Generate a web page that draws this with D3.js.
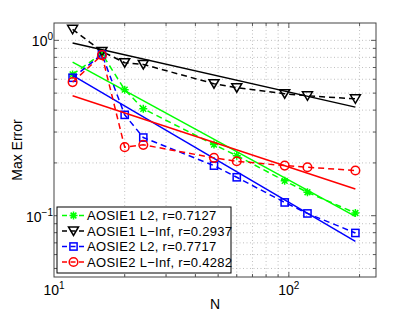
<!DOCTYPE html>
<html><head><meta charset="utf-8">
<script src="https://cdn.jsdelivr.net/npm/d3@7"></script>
<style>body{margin:0;background:#fff}svg{display:block;font-family:"Liberation Sans",Arial,Helvetica,sans-serif}</style>
</head><body><svg id="c" width="415" height="312"></svg>
<script>
// ---- data ----
const N = [12, 16, 20, 24, 48, 60, 96, 120, 192];
const aosie1L2   = [0.639, 0.84, 0.523, 0.407, 0.2545, 0.220, 0.158, 0.136, 0.1036];
const aosie1Linf = [1.156, 0.865, 0.746, 0.729, 0.566, 0.537, 0.496, 0.483, 0.464];
const aosie2L2   = [0.612, 0.83, 0.376, 0.279, 0.193, 0.1656, 0.119, 0.103, 0.0797];
const aosie2Linf = [0.578, 0.824, 0.246, 0.2535, 0.2137, 0.2044, 0.193, 0.189, 0.181];
const fitN = [12, 192];
const fit1L2   = [0.752, 0.0991];
const fit1Linf = [0.965, 0.416];
const fit2L2   = [0.631, 0.0713];
const fit2Linf = [0.483, 0.142];
const seriesNames = ["AOSIE1 L2, r=0.7127", "AOSIE1 L\u2212Inf, r=0.2937", "AOSIE2 L2, r=0.7717", "AOSIE2 L\u2212Inf, r=0.4282"];
const xTickExp = [1, 2];
const yTickExp = [-1, 0];

// ---- layout ----
const L = 54, R = 376, T = 23, B = 277;
const svg = d3.select("#c");
const x = d3.scaleLog().domain([10, 235]).range([L, R]);
const y = d3.scaleLog().domain([0.0447, 1.256]).range([B, T]);

const series = [
  {vals: aosie1L2, fit: fit1L2, color: "#00ff00", marker: "star"},
  {vals: aosie1Linf, fit: fit1Linf, color: "#000000", marker: "tri"},
  {vals: aosie2L2, fit: fit2L2, color: "#0000ff", marker: "square"},
  {vals: aosie2Linf, fit: fit2Linf, color: "#ff0000", marker: "circle"}
];

// grid
const xMinor = [];
for (let d = 10; d <= 100; d *= 10) for (let k = 1; k <= 9; k++) { const v = k * d; if (v > 10 && v <= 235) xMinor.push(v); }
const yMinor = [];
for (let d = 0.01; d <= 1; d *= 10) for (let k = 1; k <= 9; k++) { const v = k * d; if (v >= 0.0447 && v <= 1.256) yMinor.push(v); }
const g = svg.append("g");
g.selectAll(".gx").data(xMinor).join("line")
  .attr("x1", d => x(d)).attr("x2", d => x(d)).attr("y1", T).attr("y2", B)
  .attr("stroke", "#b0b0b0").attr("stroke-width", 0.8).attr("stroke-dasharray", "1,2.5");
g.selectAll(".gy").data(yMinor).join("line")
  .attr("y1", d => y(d)).attr("y2", d => y(d)).attr("x1", L).attr("x2", R)
  .attr("stroke", "#b0b0b0").attr("stroke-width", 0.8).attr("stroke-dasharray", "1,2.5");

// ticks (inside, all sides)
const isMajor = v => Math.abs(Math.log10(v) - Math.round(Math.log10(v))) < 1e-9;
const tk = svg.append("g").attr("stroke", "#333").attr("stroke-width", 0.8);
xMinor.forEach(v => {
  const len = isMajor(v) ? 5 : 3;
  tk.append("line").attr("x1", x(v)).attr("x2", x(v)).attr("y1", B).attr("y2", B - len);
  tk.append("line").attr("x1", x(v)).attr("x2", x(v)).attr("y1", T).attr("y2", T + len);
});
yMinor.forEach(v => {
  const len = isMajor(v) ? 5 : 3;
  tk.append("line").attr("y1", y(v)).attr("y2", y(v)).attr("x1", L).attr("x2", L + len);
  tk.append("line").attr("y1", y(v)).attr("y2", y(v)).attr("x1", R).attr("x2", R - len);
});

// markers
function drawMarker(sel, type, cx, cy, color) {
  if (type === "star") {
    const r = 4;
    const p = `M${cx-r},${cy}L${cx+r},${cy}M${cx},${cy-r}L${cx},${cy+r}` +
      `M${cx-r*0.72},${cy-r*0.72}L${cx+r*0.72},${cy+r*0.72}M${cx-r*0.72},${cy+r*0.72}L${cx+r*0.72},${cy-r*0.72}`;
    sel.append("path").attr("d", p).attr("stroke", color).attr("stroke-width", 1.5).attr("fill", "none");
  } else if (type === "tri") {
    const p = `M${cx-5},${cy-4}L${cx+5},${cy-4}L${cx},${cy+4.5}Z`;
    sel.append("path").attr("d", p).attr("stroke", color).attr("stroke-width", 1.5).attr("fill", "none");
  } else if (type === "square") {
    sel.append("rect").attr("x", cx - 3.6).attr("y", cy - 3.6).attr("width", 7.2).attr("height", 7.2)
      .attr("stroke", color).attr("stroke-width", 1.5).attr("fill", "none");
  } else {
    sel.append("circle").attr("cx", cx).attr("cy", cy).attr("r", 4.3)
      .attr("stroke", color).attr("stroke-width", 1.5).attr("fill", "none");
  }
}

const line = d3.line().x(d => x(d[0])).y(d => y(d[1]));
const plot = svg.append("g");
series.forEach(s => {
  plot.append("path").attr("d", line(N.map((n, i) => [n, s.vals[i]])))
    .attr("fill", "none").attr("stroke", s.color).attr("stroke-width", 1.5).attr("stroke-dasharray", "6,4");
  N.forEach((n, i) => drawMarker(plot, s.marker, x(n), y(s.vals[i]), s.color));
  plot.append("path").attr("d", line(fitN.map((n, i) => [n, s.fit[i]])))
    .attr("fill", "none").attr("stroke", s.color).attr("stroke-width", 1.5);
});

// frame
svg.append("rect").attr("x", L).attr("y", T).attr("width", R - L).attr("height", B - T)
  .attr("fill", "none").attr("stroke", "#444").attr("stroke-width", 1);

// tick labels
const lab = svg.append("g").attr("fill", "#000");
xTickExp.forEach(e => {
  const t = lab.append("text").attr("x", x(Math.pow(10, e))).attr("y", 295)
    .attr("text-anchor", "middle").attr("font-size", 14);
  t.append("tspan").text("10");
  t.append("tspan").attr("font-size", 10).attr("dy", -6).text(String(e));
});
yTickExp.forEach(e => {
  const t = lab.append("text").attr("x", 53).attr("y", y(Math.pow(10, e)) + 6)
    .attr("text-anchor", "end").attr("font-size", 14);
  t.append("tspan").text("10");
  t.append("tspan").attr("font-size", 10).attr("dy", -6).text(e < 0 ? "\u2212" + Math.abs(e) : String(e));
});

// axis labels
svg.append("text").attr("x", (L + R) / 2).attr("y", 309).attr("text-anchor", "middle")
  .attr("font-size", 14).text("N");
svg.append("text").attr("transform", `translate(22,${(T + B) / 2}) rotate(-90)`)
  .attr("text-anchor", "middle").attr("font-size", 14).text("Max Error");

// legend
const lg = svg.append("g");
lg.append("rect").attr("x", 57).attr("y", 207).attr("width", 174).attr("height", 66)
  .attr("fill", "#fff").attr("stroke", "#000").attr("stroke-width", 1);
series.forEach((s, i) => {
  const cy = 215.5 + i * 15.5;
  lg.append("line").attr("x1", 62).attr("x2", 85).attr("y1", cy).attr("y2", cy)
    .attr("stroke", s.color).attr("stroke-width", 1.5).attr("stroke-dasharray", "5,3.5");
  drawMarker(lg, s.marker, 73.5, cy, s.color);
  lg.append("text").attr("x", 87).attr("y", cy + 4.5).attr("font-size", 13)
    .attr("letter-spacing", 0.3).text(seriesNames[i]);
});
</script></body></html>
